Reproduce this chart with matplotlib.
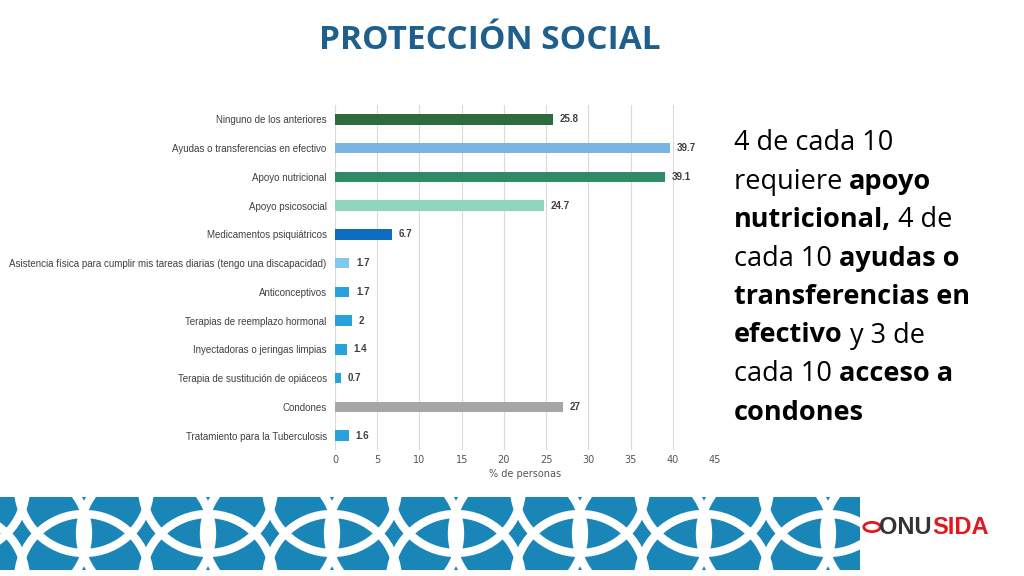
import matplotlib
matplotlib.use('Agg')
import matplotlib.pyplot as plt
from matplotlib.patches import Circle

categories = ['Ninguno de los anteriores', 'Ayudas o transferencias en efectivo', 'Apoyo nutricional',
              'Apoyo psicosocial', 'Medicamentos psiquiátricos',
              'Asistencia física para cumplir mis tareas diarias (tengo una discapacidad)',
              'Anticonceptivos', 'Terapias de reemplazo hormonal', 'Inyectadoras o jeringas limpias',
              'Terapia de sustitución de opiáceos', 'Condones', 'Tratamiento para la Tuberculosis']
values = [25.8, 39.7, 39.1, 24.7, 6.7, 1.7, 1.7, 2, 1.4, 0.7, 27, 1.6]
colors = ['#2e6b3e', '#7ab4e3', '#2f8a68', '#90d5bf', '#0e6cbf', '#80c9ec',
          '#27a2dc', '#27a2dc', '#27a2dc', '#27a2dc', '#a6a6a6', '#27a2dc']

fig = plt.figure(figsize=(10.24, 5.76), dpi=100)
ax = fig.add_axes([335/1024, 1-450/576, 380/1024, 345/576])
y = list(range(len(categories)))
ax.barh(y, values, color=colors, height=0.36, zorder=3)
for yi, v in zip(y, values):
    ax.text(v + 0.8, yi, f'{v:g}', va='center', fontsize=7, fontweight='bold', color='#404040',
            family='Liberation Sans')
ax.set_yticks(y)
ax.set_yticklabels(categories, fontsize=7, color='#404040', family='Liberation Sans')
ax.set_ylim(len(categories) - 0.5, -0.5)
ax.set_xlim(0, 45)
ax.set_xticks(range(0, 46, 5))
ax.tick_params(axis='x', labelsize=7, colors='#555555', length=0)
ax.tick_params(axis='y', length=0, pad=6)
ax.grid(axis='x', color='#d9d9d9', lw=0.8, zorder=0)
for s in ax.spines.values():
    s.set_visible(False)
ax.set_xlabel('% de personas', fontsize=7, color='#555555', labelpad=3)

fig.text(0.478, 0.93, 'PROTECCIÓN SOCIAL', ha='center', va='center', fontsize=24,
         fontweight='bold', color='#1f5f8e', family='Open Sans')

# right-hand text with mixed bold
lines = [[('4 de cada 10', False)],
         [('requiere ', False), ('apoyo', True)],
         [('nutricional,', True), (' 4 de', False)],
         [('cada 10 ', False), ('ayudas o', True)],
         [('transferencias en', True)],
         [('efectivo', True), (' y 3 de', False)],
         [('cada 10 ', False), ('acceso a', True)],
         [('condones', True)]]
renderer = fig.canvas.get_renderer()
for i, parts in enumerate(lines):
    x = 734
    ypix = 143 + i * 38.5
    for txt, bold in parts:
        t = fig.text(x / 1024, 1 - ypix / 576, txt, fontsize=19.5, va='center', ha='left',
                     fontweight='bold' if bold else 'normal', color='black', family='Open Sans')
        x += t.get_window_extent(renderer).width

# bottom banner
bx = fig.add_axes([0, 6/576, 860/1024, 73/576])
bx.set_facecolor('#1a86b8')
bx.set_xlim(0, 860)
bx.set_ylim(0, 73)
bx.set_xticks([])
bx.set_yticks([])
for s in bx.spines.values():
    s.set_visible(False)
for cx in range(-40, 940, 124):
    for cy in (-10, 83):
        bx.add_patch(Circle((cx, cy), 66, fill=False, ec='white', lw=6))
    bx.add_patch(Circle((cx + 62, 36.5), 66, fill=False, ec='white', lw=6))

fig.text(879/1024, 1 - 527/576, 'ONU', fontsize=17, fontweight='bold', color='#333333',
         va='center', family='Liberation Sans')
fig.text(932/1024, 1 - 527/576, 'SIDA', fontsize=17, fontweight='bold', color='#e3171f',
         va='center', family='Liberation Sans')
fig.patches.append(Circle((872/1024, 1 - 527/576), 0.008, transform=fig.transFigure,
                          fill=False, ec='#e3171f', lw=2))

fig.savefig('out.png', dpi=100)
